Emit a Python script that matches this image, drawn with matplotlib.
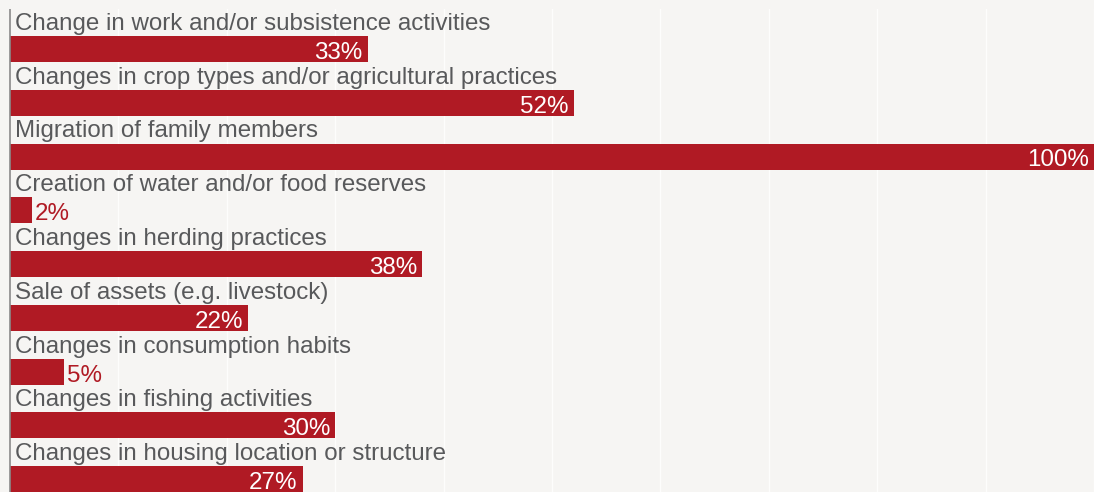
import matplotlib
matplotlib.use("Agg")
import matplotlib.pyplot as plt

# Share of respondents per adaptation strategy
strategies = [
    "Change in work and/or subsistence activities",
    "Changes in crop types and/or agricultural practices",
    "Migration of family members",
    "Creation of water and/or food reserves",
    "Changes in herding practices",
    "Sale of assets (e.g. livestock)",
    "Changes in consumption habits",
    "Changes in fishing activities",
    "Changes in housing location or structure",
]
shares = [33, 52, 100, 2, 38, 22, 5, 30, 27]

bar_red = "#b01a24"
bg = "#f6f5f3"
text_grey = "#58595b"

plt.rcParams["font.family"] = ["Liberation Sans", "DejaVu Sans"]

W, H = 1094, 492
fig = plt.figure(figsize=(W / 100, H / 100), dpi=100, facecolor=bg)

# axes geometry in pixels
top_px = 9
x0_px = 10
row_pitch = 53.75
first_center = 49
bar_h_px = 26

ax = fig.add_axes([0, 0, 1, (H - top_px) / H])
ax.set_facecolor(bg)

px_per_unit = (W - x0_px) / 100.0
ax.set_xlim(-x0_px / px_per_unit, 100)
ax.set_ylim((H - first_center) / row_pitch, (top_px - first_center) / row_pitch)

for g in range(10, 101, 10):
    ax.axvline(g, color="#fdfdfc", lw=1.0, zorder=0)
ax.axvline(0, color="#8a8a8a", lw=1.2, zorder=3)

rows = list(range(len(strategies)))
bar_h = bar_h_px / row_pitch
ax.barh(rows, shares, height=bar_h, color=bar_red, zorder=2)

fs = 17.4
for i, (name, v) in enumerate(zip(strategies, shares)):
    ax.annotate(name, xy=(0, i - bar_h / 2), xytext=(5, 6),
                textcoords="offset pixels", ha="left", va="baseline",
                fontsize=fs, color=text_grey, zorder=4)
    label = f"{v}%"
    if v >= 10:
        ax.annotate(label, xy=(v, i + bar_h / 2), xytext=(-5, 3),
                    textcoords="offset pixels", ha="right", va="baseline",
                    fontsize=fs, color="white", zorder=4)
    else:
        ax.annotate(label, xy=(v, i + bar_h / 2), xytext=(3, 3),
                    textcoords="offset pixels", ha="left", va="baseline",
                    fontsize=fs, color=bar_red, zorder=4)

for s in ax.spines.values():
    s.set_visible(False)
ax.set_xticks([])
ax.set_yticks([])

fig.savefig("out.png", dpi=100, facecolor=bg)
